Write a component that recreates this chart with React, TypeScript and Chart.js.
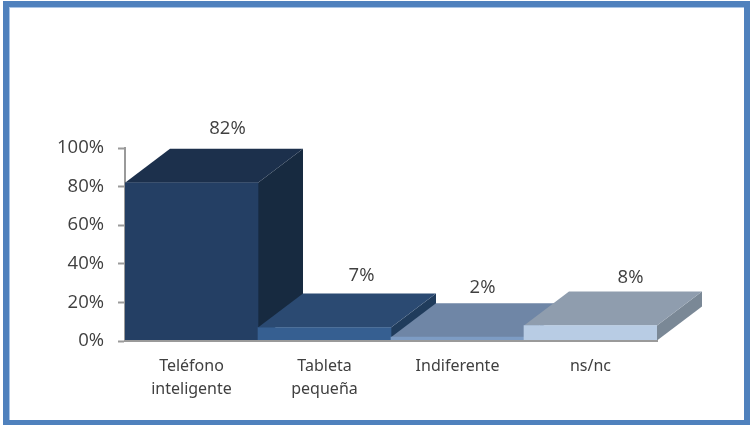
import React, { useEffect, useRef } from "react";
import { Chart, registerables } from "chart.js";

Chart.register(...registerables);

const categories = [["Teléfono", "inteligente"], ["Tableta", "pequeña"], "Indiferente", "ns/nc"];
const values = [82, 7, 2, 8];
const yTicks = [0, 20, 40, 60, 80, 100];
const frontColors = ["#243F64", "#365F91", "#7D9CC4", "#B8CCE4"];
const topColors = ["#1C304C", "#2B4A72", "#6F86A6", "#8F9DAE"];
const sideColors = ["#172A40", "#203C5C", "#5C7392", "#7A8896"];
const labelOffsets = [
  [36, 54],
  [37, 52],
  [25, 49],
  [40, 48],
];

const DEPTH_X = 45;
const DEPTH_Y = 34;

const box3d = {
  id: "box3d",
  beforeDatasetsDraw(chart: any) {
    const { ctx } = chart;
    const meta = chart.getDatasetMeta(0);
    meta.data.forEach((bar: any, i: number) => {
      const { x, y, width, base } = bar.getProps(["x", "y", "width", "base"], true);
      const l = x - width / 2;
      const r = x + width / 2;
      ctx.fillStyle = sideColors[i];
      ctx.beginPath();
      ctx.moveTo(r, base);
      ctx.lineTo(r + DEPTH_X, base - DEPTH_Y);
      ctx.lineTo(r + DEPTH_X, y - DEPTH_Y);
      ctx.lineTo(r, y);
      ctx.closePath();
      ctx.fill();
      ctx.fillStyle = topColors[i];
      ctx.beginPath();
      ctx.moveTo(l, y);
      ctx.lineTo(l + DEPTH_X, y - DEPTH_Y);
      ctx.lineTo(r + DEPTH_X, y - DEPTH_Y);
      ctx.lineTo(r, y);
      ctx.closePath();
      ctx.fill();
    });
  },
  afterDatasetsDraw(chart: any) {
    const { ctx } = chart;
    const meta = chart.getDatasetMeta(0);
    ctx.save();
    ctx.font = '18.5px "Open Sans"';
    ctx.fillStyle = "#404040";
    ctx.textAlign = "center";
    ctx.textBaseline = "middle";
    meta.data.forEach((bar: any, i: number) => {
      const { x, y } = bar.getProps(["x", "y"], true);
      ctx.fillText(`${values[i]}%`, x + labelOffsets[i][0], y - labelOffsets[i][1]);
    });
    ctx.restore();
  },
};

export default function App() {
  const ref = useRef<HTMLCanvasElement>(null);
  useEffect(() => {
    const chart = new Chart(ref.current as HTMLCanvasElement, {
      type: "bar",
      data: {
        labels: categories as any,
        datasets: [
          {
            data: values,
            backgroundColor: frontColors,
            barPercentage: 1,
            categoryPercentage: 1,
            borderWidth: 0,
          },
        ],
      },
      options: {
        animation: false,
        responsive: false,
        layout: { padding: { left: 0, top: 148, right: 97, bottom: 0 } },
        plugins: { legend: { display: false }, tooltip: { enabled: false } },
        scales: {
          x: {
            grid: { display: false },
            border: { display: true, color: "#9A9A9A", width: 2, z: 1 },
            ticks: {
              color: "#404040",
              font: { family: '"Noto Sans"', size: 16, lineHeight: 1.44 },
              padding: 6,
              maxRotation: 0,
              autoSkip: false,
            },
            afterFit(scale: any) {
              scale.height = 84;
            },
          },
          y: {
            min: 0,
            max: 100,
            afterBuildTicks(scale: any) {
              scale.ticks = yTicks.map((value) => ({ value }));
            },
            grid: { drawOnChartArea: false, drawTicks: true, tickLength: 7, color: "#9A9A9A", tickWidth: 2 },
            border: { display: true, color: "#9A9A9A", width: 2 },
            ticks: {
              color: "#404040",
              font: { family: '"Open Sans"', size: 18.5 },
              padding: 14,
              callback: (v: any) => `${v}%`,
            },
            afterFit(scale: any) {
              scale.width = 125;
            },
          },
        },
      },
      plugins: [box3d],
    });
    return () => chart.destroy();
  }, []);
  return (
    <div style={{ position: "absolute", left: 0, top: 0, width: 754, height: 425, background: "#fff", overflow: "hidden" }}>
      <canvas ref={ref} width={754} height={425} style={{ position: "absolute", left: 0, top: 0 }} />
      <div
        style={{
          position: "absolute",
          left: 3,
          top: 1,
          width: 747,
          height: 424,
          boxSizing: "border-box",
          border: "6px solid #4F81BD",
          borderBottomWidth: 5,
          boxShadow: "inset 1px 1px 0 #A9C4E6",
          pointerEvents: "none",
        }}
      />
    </div>
  );
}
